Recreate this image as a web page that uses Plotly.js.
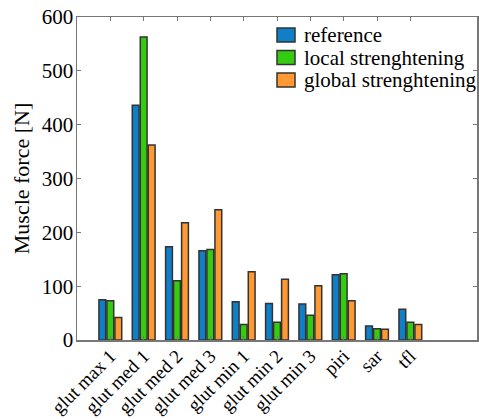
<!DOCTYPE html>
<html>
<head>
<meta charset="utf-8">
<script src="https://cdn.plot.ly/plotly-3.0.1.min.js"></script>
<style>html,body{margin:0;padding:0;background:#fff;}#chart{width:479px;height:419px;}</style>
</head>
<body>
<div id="chart"></div>
<script>
const categories = ["glut max 1","glut med 1","glut med 2","glut med 3","glut min 1","glut min 2","glut min 3","piri","sar","tfl"];
const positions = [1,2,3,4,5,6,7,8,9,10];
const referenceVals = [75,436,173,166,71,68,67,121,26,57];
const localVals = [73,563,110,168,29,33,46,123,21,33];
const globalVals = [42,362,218,242,127,113,101,73,20,29];
const seriesNames = ["reference","local strenghtening","global strenghtening"];
const colors = ["#0f7fc8","#33cc11","#ff9933"];

const series = [referenceVals, localVals, globalVals];
const traces = series.map((vals, i) => ({
  type: "bar",
  x: positions,
  y: vals,
  name: seriesNames[i],
  showlegend: false,
  marker: {color: colors[i], line: {color: "#333333", width: 1.5}}
}));

const fam = "'Liberation Serif', 'Times New Roman', Times, serif";
const font = (s) => ({family: fam, size: s, color: "#000"});

// legend drawn as annotations + swatch shapes in paper coordinates
const plotL = 77, plotW = 400, plotT = 17, plotH = 323;
const px2x = (p) => (p - plotL) / plotW;
const px2y = (p) => 1 - (p - plotT) / plotH;
const legendItems = seriesNames.map((n, i) => ({cy: 35 + i * 22.5, name: n, color: colors[i]}));
const shapes = legendItems.map(it => ({
  type: "rect", xref: "paper", yref: "paper",
  x0: px2x(277), x1: px2x(295), y0: px2y(it.cy - 7), y1: px2y(it.cy + 7),
  fillcolor: it.color, line: {color: "#333", width: 1.5}
}));
const annotations = legendItems.map(it => ({
  xref: "paper", yref: "paper", x: px2x(302), y: px2y(it.cy),
  xanchor: "left", yanchor: "middle", showarrow: false,
  text: it.name, font: font(21)
}));

const layout = {
  width: 479, height: 419,
  font: font(20),
  margin: {l: 77, r: 2, t: 17, b: 79},
  paper_bgcolor: "#fff", plot_bgcolor: "#fff",
  barmode: "group",
  bargap: 0.28,
  bargroupgap: 0.15,
  showlegend: false,
  shapes: shapes,
  annotations: annotations,
  xaxis: {
    range: [0, 12],
    tickvals: positions,
    ticktext: categories,
    tickangle: -45,
    tickfont: font(19),
    ticklabelstandoff: -4,
    showline: true, linecolor: "#777", linewidth: 1.5,
    mirror: "ticks", ticks: "inside", ticklen: 4, tickcolor: "#777",
    showgrid: false, zeroline: false
  },
  yaxis: {
    range: [0, 600],
    tickvals: [0,100,200,300,400,500,600],
    tickfont: font(21),
    ticklabelstandoff: -2,
    title: {text: "Muscle force [N]", font: font(22), standoff: 6},
    showline: true, linecolor: "#777", linewidth: 1.5,
    mirror: "ticks", ticks: "inside", ticklen: 4, tickcolor: "#777",
    showgrid: false, zeroline: false
  }
};

Plotly.newPlot("chart", traces, layout, {displayModeBar: false, staticPlot: true});
</script>
</body>
</html>
